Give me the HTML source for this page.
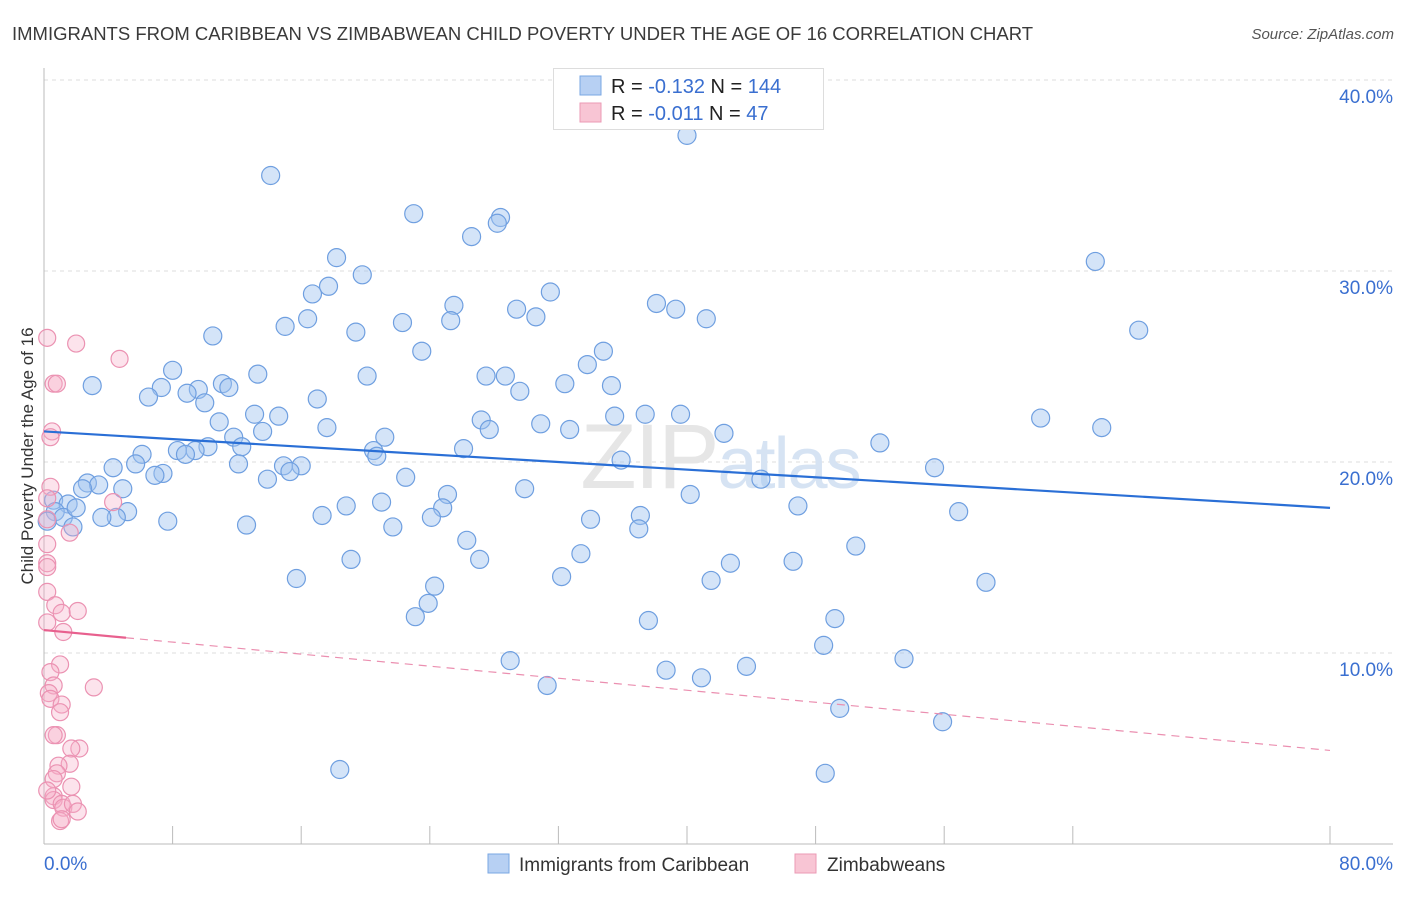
<!DOCTYPE html>
<html><head><meta charset="utf-8"><style>
body{margin:0;background:#fff;font-family:"Liberation Sans",sans-serif;}
svg text{font-family:"Liberation Sans",sans-serif;}
</style></head><body>
<svg id="chart" width="1406" height="892" viewBox="0 0 1406 892" xmlns="http://www.w3.org/2000/svg">
<text x="12" y="40" font-size="18.5" fill="#3a3a3a">IMMIGRANTS FROM CARIBBEAN VS ZIMBABWEAN CHILD POVERTY UNDER THE AGE OF 16 CORRELATION CHART</text>
<text x="1394" y="39" font-size="15" fill="#555" font-style="italic" text-anchor="end">Source: ZipAtlas.com</text>
<g id="grid"></g>
<text x="720" y="488" font-size="92" fill="#e6e6e6" text-anchor="middle" font-family="Liberation Serif" letter-spacing="-2">ZIP<tspan fill="#d6e3f3" font-family="Liberation Sans" font-size="72">atlas</tspan></text>
<g id="blue"></g>
<g id="pink"></g>
<g id="trends"></g>
<text transform="translate(33,456) rotate(-90)" font-size="17" fill="#333" text-anchor="middle">Child Poverty Under the Age of 16</text>
<g>
<rect x="553.5" y="68.5" width="270" height="61" fill="#fff" stroke="#ddd"/>
<rect x="580" y="76" width="21" height="19" fill="#b7d0f3" stroke="#7aa7e3"/>
<rect x="580" y="103" width="21" height="19" fill="#f8c5d4" stroke="#eb9ab5"/>
<text x="611" y="93" font-size="20" fill="#222">R = <tspan fill="#3a6fd0">-0.132</tspan>   N = <tspan fill="#3a6fd0">144</tspan></text>
<text x="611" y="120" font-size="20" fill="#222">R = <tspan fill="#3a6fd0">-0.011</tspan>   N =   <tspan fill="#3a6fd0">47</tspan></text>
</g>
<g>
<rect x="488" y="854" width="21" height="19" fill="#b7d0f3" stroke="#7aa7e3"/>
<text x="519" y="871" font-size="19" fill="#333">Immigrants from Caribbean</text>
<rect x="795" y="854" width="21" height="19" fill="#f8c5d4" stroke="#eb9ab5"/>
<text x="827" y="871" font-size="19" fill="#333">Zimbabweans</text>
</g>
</svg>
<script>
const xTicks=[0,8,16,24,32,40,48,56,64,80];
const yTicks=[10,20,30,40];
const yTickLabels=["10.0%","20.0%","30.0%","40.0%"];
const xTickLabels=["0.0%","80.0%"];
const blueX=[40.0,14.1,23.0,28.4,28.2,26.6,65.4,18.2,19.8,17.7,16.7,31.5,25.5,29.4,38.1,39.3,30.6,16.4,41.2,25.3,22.3,15.0,19.4,68.1,10.5,23.5,34.8,33.8,8.0,20.1,27.5,28.7,13.3,3.0,7.3,32.4,35.3,11.1,11.5,9.6,8.9,6.5,29.6,10.0,17.0,13.1,14.6,62.0,39.6,37.4,35.5,27.2,10.9,65.8,30.9,27.7,17.6,32.7,13.6,42.3,11.8,21.2,12.3,52.0,10.2,8.3,9.4,8.8,26.1,20.5,20.7,6.1,35.9,55.4,12.1,5.7,4.3,7.4,6.9,22.5,14.9,16.0,15.3,44.6,13.9,2.7,3.4,4.9,29.9,2.4,40.2,0.6,1.5,25.1,0.7,1.2,2.0,5.2,46.9,21.0,18.8,17.3,24.8,24.1,56.9,4.5,3.6,34.0,37.1,37.0,7.7,12.6,21.7,1.8,0.2,26.3,50.5,33.4,19.1,27.1,42.7,46.6,32.2,15.7,41.5,58.6,24.3,23.9,23.1,49.2,37.6,48.5,29.0,38.7,43.7,53.5,40.9,31.3,49.5,55.9,18.4,48.6];
const blueY=[37.1,35.0,33.0,32.8,32.5,31.8,30.5,30.7,29.8,29.2,28.8,28.9,28.2,28.0,28.3,28.0,27.6,27.5,27.5,27.4,27.3,27.1,26.8,26.9,26.6,25.8,25.8,25.1,24.8,24.5,24.5,24.5,24.6,24.0,23.9,24.1,24.0,24.1,23.9,23.8,23.6,23.4,23.7,23.1,23.3,22.5,22.4,22.3,22.5,22.5,22.4,22.2,22.1,21.8,22.0,21.7,21.8,21.7,21.6,21.5,21.3,21.3,20.8,21.0,20.8,20.6,20.6,20.4,20.7,20.6,20.3,20.4,20.1,19.7,19.9,19.9,19.7,19.4,19.3,19.2,19.8,19.8,19.5,19.1,19.1,18.9,18.8,18.6,18.6,18.6,18.3,18.0,17.8,18.3,17.4,17.1,17.6,17.4,17.7,17.9,17.7,17.2,17.6,17.1,17.4,17.1,17.1,17.0,17.2,16.5,16.9,16.7,16.6,16.6,16.9,15.9,15.6,15.2,14.9,14.9,14.7,14.8,14.0,13.9,13.8,13.7,13.5,12.6,11.9,11.8,11.7,10.4,9.6,9.1,9.3,9.7,8.7,8.3,7.1,6.4,3.9,3.7];
const pinkX=[0.2,2.0,4.7,0.6,0.8,0.5,0.4,0.4,0.2,0.2,1.6,4.3,0.2,0.2,0.2,0.2,0.7,1.1,2.1,0.2,1.2,1.0,0.4,0.6,3.1,0.3,0.4,1.1,1.0,0.8,0.6,2.2,1.7,1.6,0.9,0.8,0.6,1.7,0.6,1.1,1.2,1.8,2.1,1.0,0.6,1.1,0.2];
const pinkY=[26.5,26.2,25.4,24.1,24.1,21.6,21.3,18.7,18.1,17.0,16.3,17.9,15.7,14.7,14.5,13.2,12.5,12.1,12.2,11.6,11.1,9.4,9.0,8.3,8.2,7.9,7.6,7.3,6.9,5.7,5.7,5.0,5.0,4.2,4.1,3.7,2.5,3.0,2.3,2.1,1.9,2.1,1.7,1.2,3.4,1.3,2.8];
const blueTrend=[21.6,17.6];   // y at x=0 and x=80
const pinkTrend=[11.2,4.9];    // y at x=0 and x=80
const pinkSolidEnd=[5.1];
const NS="http://www.w3.org/2000/svg";
const X0=44,X1=1330,Y0=844,YTOP=80;
function sx(v){return X0+(v/80)*(X1-X0);}
function sy(v){return Y0-(v/40)*(Y0-YTOP);}
function mk(tag,attrs,parent){const e=document.createElementNS(NS,tag);for(const k in attrs)e.setAttribute(k,attrs[k]);parent.appendChild(e);return e;}
const grid=document.getElementById('grid');
yTicks.forEach((t,i)=>{
  const l=mk('line',{x1:X0,x2:1393,y1:sy(t),y2:sy(t),stroke:'#ddd','stroke-dasharray':'4,4'},grid);
  
  
  const tx=mk('text',{x:1393,y:sy(t)+23,'font-size':19,fill:'#3a6fd0','text-anchor':'end'},grid);
  tx.textContent=yTickLabels[i];
  
  
});
const ax=mk('line',{x1:X0,x2:X0,y1:68,y2:Y0,stroke:'#bbb'},grid);


const bx=mk('line',{x1:X0,x2:1393,y1:Y0,y2:Y0,stroke:'#bbb'},grid);


xTicks.forEach(t=>{
  const l=mk('line',{x1:sx(t),x2:sx(t),y1:826,y2:Y0,stroke:'#bbb'},grid);
  
  
});
[[0,'start'],[80,'end']].forEach((p,i)=>{
  const tx=mk('text',{x:i==0?sx(0):1393,y:870,'font-size':19,fill:'#3a6fd0','text-anchor':p[1]},grid);
  tx.textContent=xTickLabels[i];
  
  
});
const bg=document.getElementById('blue');
blueX.forEach((x,i)=>{
  const c=mk('circle',{cx:sx(x),cy:sy(blueY[i]),r:9,fill:'rgba(160,196,240,0.45)',stroke:'#6f9fe0','stroke-width':1.2},bg);
  
  
});
const pg=document.getElementById('pink');
pinkX.forEach((x,i)=>{
  const c=mk('circle',{cx:sx(x),cy:sy(pinkY[i]),r:8.5,fill:'rgba(246,176,200,0.35)',stroke:'#eb92b2','stroke-width':1.2},pg);
  
  
});
const tg=document.getElementById('trends');
const bl=mk('line',{x1:sx(0),y1:sy(blueTrend[0]),x2:sx(80),y2:sy(blueTrend[1]),stroke:'#2a6fd6','stroke-width':2.2},tg);


const pe=pinkSolidEnd[0];
const pyAt=v=>pinkTrend[0]+(pinkTrend[1]-pinkTrend[0])*v/80;
const pl=mk('line',{x1:sx(0),y1:sy(pinkTrend[0]),x2:sx(pe),y2:sy(pyAt(pe)),stroke:'#e8608e','stroke-width':2.2},tg);


const pd=mk('line',{x1:sx(pe),y1:sy(pyAt(pe)),x2:sx(80),y2:sy(pinkTrend[1]),stroke:'#eb8fb0','stroke-width':1.2,'stroke-dasharray':'8,6'},tg);


</script>
</body></html>
